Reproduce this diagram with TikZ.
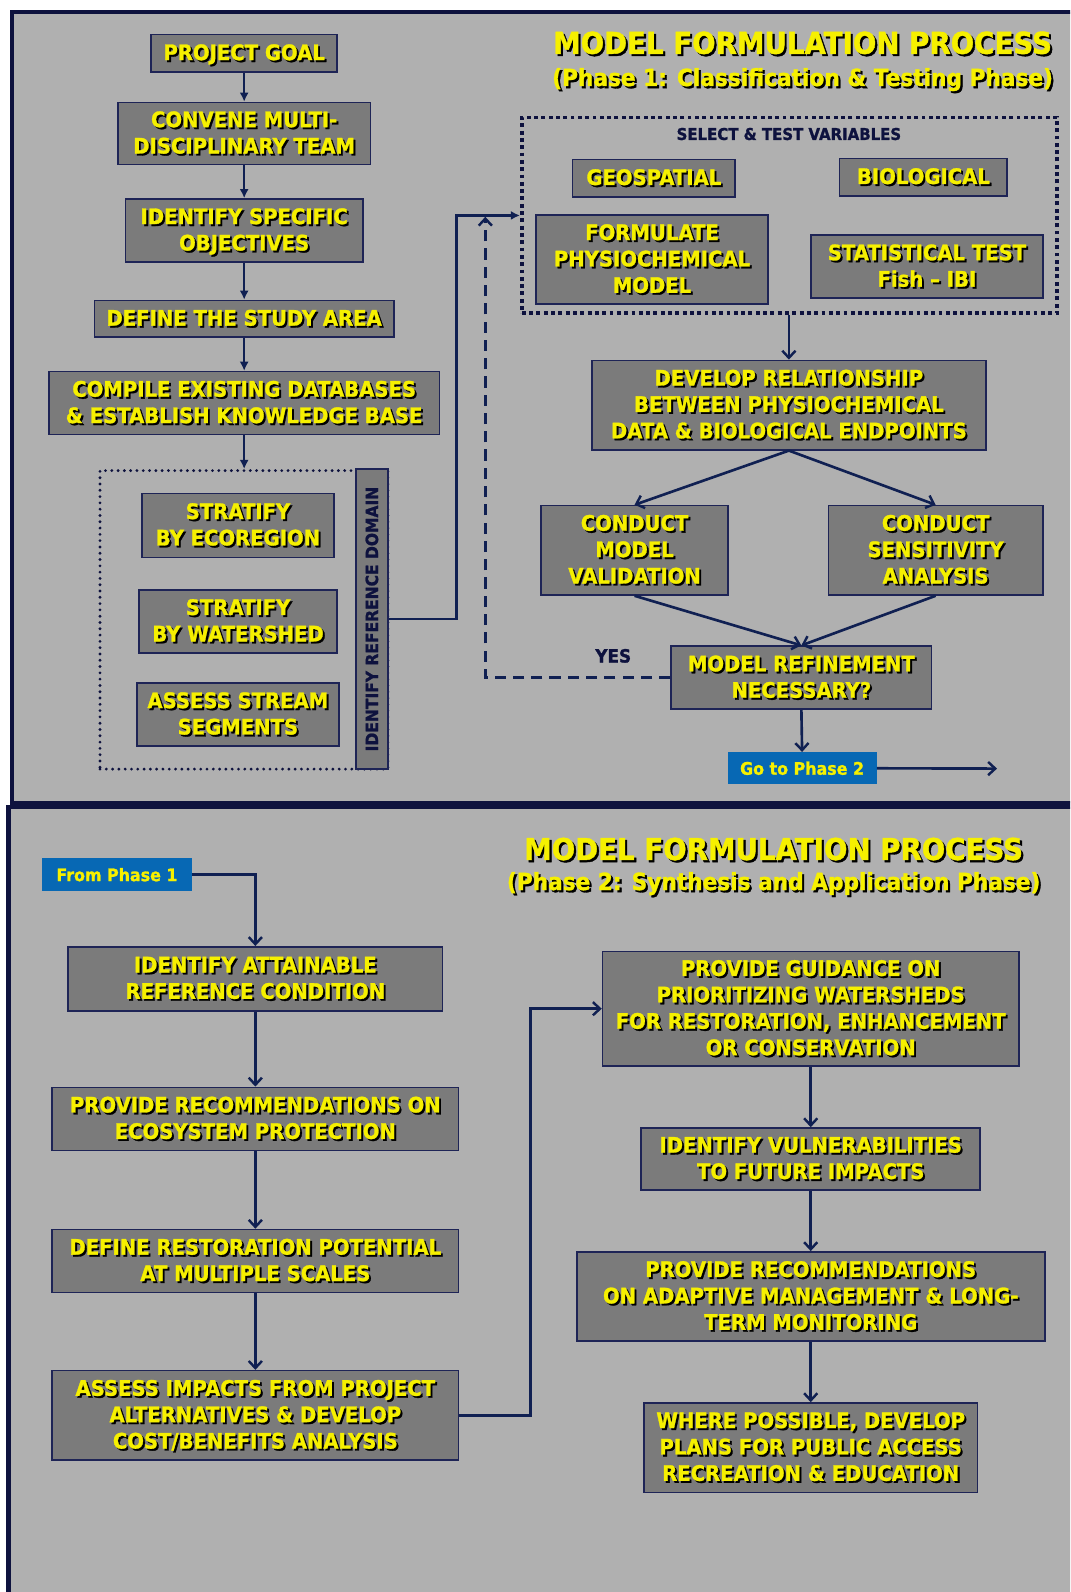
\documentclass[tikz,border=0pt]{standalone}
\usepackage{fontspec}
\setmainfont{DejaVu Sans}[FakeStretch=0.92,BoldFeatures={FakeBold=1.3}]
\usetikzlibrary{positioning,calc,arrows.meta}
\definecolor{panelgray}{RGB}{176,176,176}
\definecolor{boxgray}{RGB}{123,123,123}
\definecolor{navy}{RGB}{14,18,62}
\definecolor{linknavy}{RGB}{16,32,82}
\definecolor{boxedge}{RGB}{30,36,86}
\definecolor{hiyellow}{RGB}{246,240,0}
\definecolor{tagblue}{RGB}{7,104,180}
\newcommand{\boxfont}{\fontsize{21}{26}\selectfont\bfseries}
\newcommand{\titlefont}{\fontsize{29.6}{34}\selectfont\bfseries}
\newcommand{\subtitlefont}{\fontsize{23.2}{28}\selectfont\bfseries}
\newcommand{\tagfont}{\fontsize{17}{20}\selectfont\bfseries}
\newcommand{\labelfont}{\fontsize{16}{19}\selectfont\bfseries}
\newcommand{\domfont}{\fontsize{16.6}{19}\selectfont\bfseries}
\newcommand{\yesfont}{\fontsize{18}{21}\selectfont\bfseries}
% yellow text with a black drop shadow
\newcommand{\shd}[1]{\raisebox{0pt}[\height][\dimexpr\depth-4.9pt\relax]{\rlap{\hspace{1.9pt}\raisebox{-1.9pt}{\color{black}\begin{tabular}{@{}c@{}}#1\end{tabular}}}{\color{hiyellow}\begin{tabular}{@{}c@{}}#1\end{tabular}}}}
\newcommand{\shl}[1]{\rlap{\hspace{2.1pt}\raisebox{-2.1pt}{\color{black}#1}}{\color{hiyellow}#1}}
\tikzset{
panel/.style={draw=navy,line width=4pt,fill=panelgray},
stepbox/.style={draw=boxedge,line width=1.6pt,fill=boxgray,inner sep=0pt,font=\boxfont},
tagbox/.style={fill=tagblue,inner sep=0pt,text=hiyellow,font=\tagfont},
sideinfo/.style={text=navy,font=\labelfont,inner sep=0pt},
yesnote/.style={text=navy,font=\yesfont,inner sep=0pt},
selframe/.style={draw=navy,line width=3.8pt,dash pattern=on 3.8pt off 3.4pt,inner sep=0pt},
domframe/.style={draw=navy,line width=3.1pt,line cap=round,dash pattern=on 0pt off 6.2pt,inner sep=0pt},
headline/.style={font=\titlefont,anchor=base,inner sep=0pt},
subline/.style={font=\subtitlefont,anchor=base,inner sep=0pt},
solidarrow/.style={-{Latex[length=9pt,width=9pt]},line width=2.3pt,draw=linknavy},
flowarrow/.style={-{Straight Barb[length=7pt,width=13pt,line width=2.4pt]},line width=2.6pt,draw=linknavy},
yesarrow/.style={flowarrow,dash pattern=on 11pt off 7pt}
}

\begin{document}
\begin{tikzpicture}[x=1pt,y=-1pt]
\useasboundingbox (0,0) rectangle (1054,1568);
\clip (0,0) rectangle (1054,1568);
\fill[white] (0,0) rectangle (1054,1568);
\draw[panel] (12.2,11.8) rectangle (1080,790.8);
\draw[panel] (8.4,795) rectangle (1080,1600);

% phase 1
\node[headline] (title1) at (790.5,53) {\shl{MODEL FORMULATION PROCESS}};
\node[subline] (sub1) at (790.5,84.7) {\shl{(Phase 1: Classification \& Testing Phase)}};

\node[stepbox,minimum width=183,minimum height=37] (goal) at (240.5,52.5) {\shd{PROJECT GOAL}};
\node[stepbox,minimum width=249,minimum height=61] (team) at (240.5,131.5) {\shd{CONVENE MULTI-\\DISCIPLINARY TEAM}};
\node[stepbox,minimum width=234,minimum height=62] (aims) at (240.5,227) {\shd{IDENTIFY SPECIFIC\\OBJECTIVES}};
\node[stepbox,minimum width=295,minimum height=36] (area) at (240.5,314) {\shd{DEFINE THE STUDY AREA}};
\node[stepbox,minimum width=385,minimum height=62] (base) at (240.5,397) {\shd{COMPILE EXISTING DATABASES\\\& ESTABLISH KNOWLEDGE BASE}};

\node[domframe,minimum width=283.5,minimum height=294] (dom) at (240.25,610.5) {};
\node[stepbox,minimum width=189,minimum height=63] (eco) at (234.4,517.5) {\shd{STRATIFY\\BY ECOREGION}};
\node[stepbox,minimum width=195,minimum height=62] (shed) at (234.5,612) {\shd{STRATIFY\\BY WATERSHED}};
\node[stepbox,minimum width=199,minimum height=62.5] (segs) at (234.3,703.7) {\shd{ASSESS STREAM\\SEGMENTS}};
\node[stepbox,rotate=90,minimum width=295.5,minimum height=31.3,font=\domfont,text=navy] (refdom) at (366.3,609.7) {IDENTIFY REFERENCE DOMAIN};

\node[selframe,minimum width=527,minimum height=193] (sel) at (777.5,212.2) {};
\node[sideinfo] (selname) at (777,132) {SELECT \& TEST VARIABLES};
\node[stepbox,minimum width=160,minimum height=37] (geo) at (644,175.5) {\shd{GEOSPATIAL}};
\node[stepbox,minimum width=165,minimum height=37] (bio) at (909.5,174.5) {\shd{BIOLOGICAL}};
\node[stepbox,minimum width=228.5,minimum height=87.5] (phys) at (642.2,255.7) {\shd{FORMULATE\\PHYSIOCHEMICAL\\MODEL}};
\node[stepbox,minimum width=228,minimum height=62.2] (stat) at (913,262.6) {\shd{STATISTICAL TEST\\Fish – IBI}};

\node[stepbox,minimum width=388,minimum height=88] (rel) at (777,399) {\shd{DEVELOP RELATIONSHIP\\BETWEEN PHYSIOCHEMICAL\\DATA \& BIOLOGICAL ENDPOINTS}};
\node[stepbox,minimum width=184,minimum height=88] (valid) at (625,542) {\shd{CONDUCT\\MODEL\\VALIDATION}};
\node[stepbox,minimum width=211,minimum height=88] (sens) at (921.5,542) {\shd{CONDUCT\\SENSITIVITY\\ANALYSIS}};
\node[stepbox,minimum width=256.6,minimum height=62] (refine) at (789.3,667.5) {\shd{MODEL REFINEMENT\\NECESSARY?}};
\node[tagbox,minimum width=146.8,minimum height=31.8] (go2) at (790,756.7) {Go to Phase 2};
\node[yesnote] (yes) at (604,646) {YES};
\coordinate (onward) at (982,757);
\coordinate (loopback) at (478,213.5);

\foreach \a/\b in {goal/team,team/aims,aims/area,area/base}
  \draw[solidarrow] (\a.south) -- (\b.north);
\draw[solidarrow] (base.south) -- (base.south |- dom.north);
\draw[solidarrow] (refdom.south) -- ++(67,0) |- (sel.west);
\draw[flowarrow] (rel.north |- sel.south) -- (rel.north);
\draw[flowarrow] (rel.south) -- (valid.north);
\draw[flowarrow] (rel.south) -- (sens.north);
\draw[flowarrow] (valid.south) -- (refine.north);
\draw[flowarrow] (sens.south) -- (refine.north);
\draw[flowarrow] (refine.south) -- (go2.north);
\draw[flowarrow] (go2.east) -- (onward);
\draw[yesarrow] (refine.west) -| (loopback);

% phase 2
\node[headline] (title2) at (762,847) {\shl{MODEL FORMULATION PROCESS}};
\node[subline] (sub2) at (762,876.6) {\shl{(Phase 2: Synthesis and Application Phase)}};

\node[tagbox,minimum width=147,minimum height=33] (from1) at (115.2,861.5) {From Phase 1};
\node[stepbox,minimum width=369,minimum height=63] (attain) at (251.5,964) {\shd{IDENTIFY ATTAINABLE\\REFERENCE CONDITION}};
\node[stepbox,minimum width=400,minimum height=62] (protect) at (251.5,1102) {\shd{PROVIDE RECOMMENDATIONS ON\\ECOSYSTEM PROTECTION}};
\node[stepbox,minimum width=400,minimum height=62] (restore) at (251.5,1242) {\shd{DEFINE RESTORATION POTENTIAL\\AT MULTIPLE SCALES}};
\node[stepbox,minimum width=400,minimum height=88] (impacts) at (251.5,1394) {\shd{ASSESS IMPACTS FROM PROJECT\\ALTERNATIVES \& DEVELOP\\COST/BENEFITS ANALYSIS}};

\node[stepbox,minimum width=410,minimum height=113] (guide) at (798.5,993.5) {\shd{PROVIDE GUIDANCE ON\\PRIORITIZING WATERSHEDS\\FOR RESTORATION, ENHANCEMENT\\OR CONSERVATION}};
\node[stepbox,minimum width=334,minimum height=61] (vuln) at (798.5,1141.5) {\shd{IDENTIFY VULNERABILITIES\\TO FUTURE IMPACTS}};
\node[stepbox,minimum width=461,minimum height=88] (adapt) at (798.5,1277) {\shd{PROVIDE RECOMMENDATIONS\\ON ADAPTIVE MANAGEMENT \& LONG-\\TERM MONITORING}};
\node[stepbox,minimum width=328.5,minimum height=88] (public) at (798.5,1425.8) {\shd{WHERE POSSIBLE, DEVELOP\\PLANS FOR PUBLIC ACCESS\\RECREATION \& EDUCATION}};

\draw[flowarrow] (from1.east) -| (attain.north);
\foreach \a/\b in {attain/protect,protect/restore,restore/impacts,guide/vuln,vuln/adapt,adapt/public}
  \draw[flowarrow] (\a.south) -- (\b.north);
\draw[flowarrow] (impacts.east) -- ++(70.5,0) |- (guide.west);
\end{tikzpicture}
\end{document}
